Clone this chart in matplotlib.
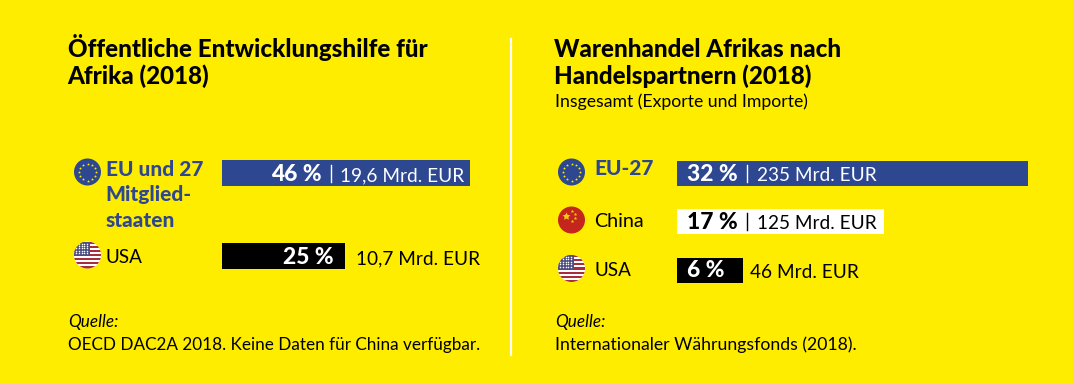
import numpy as np
import matplotlib
matplotlib.use("Agg")
import matplotlib.pyplot as plt
from matplotlib.patches import Circle, Rectangle

W, H = 1073, 384
YELLOW = "#ffed00"
BLUE = "#2e4791"
plt.rcParams["font.family"] = ["Lato", "DejaVu Sans"]

# left panel
left_cats = ["EU und 27\nMitglied-\nstaaten", "USA"]
left_bar_len = [46, 22.8]
left_pct = ["46 %", "25 %"]
left_amount = ["19,6 Mrd. EUR", "10,7 Mrd. EUR"]
left_colors = [BLUE, "black"]

# right panel
right_cats = ["EU-27", "China", "USA"]
right_bar_len = [32, 18.9, 6]
right_pct = ["32 %", "17 %", "6 %"]
right_amount = ["235 Mrd. EUR", "125 Mrd. EUR", "46 Mrd. EUR"]
right_colors = [BLUE, "white", "black"]

fig = plt.figure(figsize=(W / 100, H / 100), dpi=100, facecolor=YELLOW)

# overlay in pixel coordinates, y going down like the picture
bg = fig.add_axes([0, 0, 1, 1])
bg.set_xlim(0, W)
bg.set_ylim(H, 0)
bg.axis("off")
bg.set_zorder(3)

ax_l = fig.add_axes([222 / W, 1 - 298 / H, 248 / W, 167 / H])
ax_l.set_xlim(0, 46)
ax_l.set_ylim(1.5, -0.5)
ax_l.axis("off")
ax_l.barh(range(len(left_cats)), left_bar_len, height=0.31, color=left_colors)

ax_r = fig.add_axes([677 / W, 1 - 294.5 / H, 351 / W, 145.5 / H])
ax_r.set_xlim(0, 32)
ax_r.set_ylim(2.5, -0.5)
ax_r.axis("off")
ax_r.barh(range(len(right_cats)), right_bar_len, height=0.52, color=right_colors)


def star(x, y, size, color=YELLOW):
    bg.scatter([x], [y], s=size, marker=(5, 1, 0), color=color, linewidths=0, zorder=5)


def eu_flag(cx, cy, r=13.5):
    bg.add_patch(Circle((cx, cy), r, color=BLUE, lw=0))
    for a in np.arange(12) * np.pi / 6:
        star(cx + 8.5 * np.cos(a), cy + 8.5 * np.sin(a), 4)


def us_flag(cx, cy, r=13.5):
    clip = Circle((cx, cy), r, transform=bg.transData, fc="white", lw=0)
    bg.add_patch(clip)
    for i in range(7):
        s = bg.add_patch(Rectangle((cx - r, cy - r + i * 2 * r * 2 / 13), 2 * r, 2 * r / 13, color="#a92c3c", lw=0))
        s.set_clip_path(clip)
    c = bg.add_patch(Rectangle((cx - r, cy - r), r * 1.15, r * 1.05, color="#4c4f80", lw=0))
    c.set_clip_path(clip)
    for i in range(5):
        for j in range(5):
            d = bg.scatter([cx - r + 2 + j * 2.8], [cy - r + 2 + i * 2.4], s=1.2, color="white", linewidths=0, zorder=5)
            d.set_clip_path(clip)


def cn_flag(cx, cy, r=13.5):
    bg.add_patch(Circle((cx, cy), r, color="#c4261d", lw=0))
    star(cx - 6, cy - 4, 34, "#f5c518")
    for dx, dy in [(0, -9), (3, -6), (3, -2), (0, 1)]:
        star(cx + dx, cy + dy, 6, "#f5c518")


eu_flag(87.5, 172)
us_flag(87.5, 255)
eu_flag(571.5, 172)
cn_flag(571.5, 220)
us_flag(571.5, 268.5)

# titles
title_kw = dict(fontsize=17.4, fontweight=900, color="black", va="baseline")
bg.text(67.5, 57, "Öffentliche Entwicklungshilfe für", **title_kw)
bg.text(67.5, 84, "Afrika (2018)", **title_kw)
bg.text(554.5, 57, "Warenhandel Afrikas nach", **title_kw)
bg.text(554.5, 84, "Handelspartnern (2018)", **title_kw)
bg.text(555, 107, "Insgesamt (Exporte und Importe)", fontsize=12.7, va="baseline")

# divider
bg.plot([510.5, 510.5], [39, 355], color="white", lw=1.6)

# category labels
cat_kw = dict(fontsize=13.6, va="baseline")
cat_bold = dict(fontsize=15, va="baseline", fontweight=900, color=BLUE)
for line, y in zip(left_cats[0].split("\n"), [176, 201, 227]):
    bg.text(105.5, y, line, **cat_bold)
bg.text(105.5, 263, left_cats[1], **cat_kw)
bg.text(594.5, 175, right_cats[0], **cat_bold)
bg.text(594.5, 227, right_cats[1], fontsize=14.2, va="baseline")
bg.text(594.5, 276, right_cats[2], **cat_kw)

# values on the bars
val_kw = dict(fontsize=13.7, va="baseline", zorder=6)
pct_kw = dict(fontsize=16.4, va="baseline", zorder=6, fontweight=900)
bg.text(322, 181, left_pct[0], ha="right", color="white", **pct_kw)
bg.plot([331, 331], [165, 182], color="white", lw=1)
bg.text(464, 181, left_amount[0], ha="right", color="white", **val_kw)
bg.text(334, 264, left_pct[1], ha="right", color="white", **pct_kw)
bg.text(480, 264, left_amount[1], ha="right", color="black", **val_kw)

for y, pct, amt, tc in [(181, right_pct[0], right_amount[0], "white"),
                        (229, right_pct[1], right_amount[1], "black")]:
    bg.text(687, y, pct, color=tc, **pct_kw)
    bg.plot([747, 747], [y - 16, y + 1], color=tc, lw=1, zorder=6)
    bg.text(757, y, amt, color=tc, **val_kw)
bg.text(687, 277, right_pct[2], color="white", **pct_kw)
bg.text(750, 278, right_amount[2], color="black", **val_kw)

# sources
src_kw = dict(fontsize=12.3, va="baseline")
bg.text(68, 327, "Quelle:", style="italic", **src_kw)
bg.text(68, 350, "OECD DAC2A 2018. Keine Daten für China verfügbar.", **src_kw)
bg.text(555, 327, "Quelle:", style="italic", **src_kw)
bg.text(555, 350, "Internationaler Währungsfonds (2018).", fontsize=12.7, va="baseline")

fig.savefig("out.png", dpi=100, facecolor=YELLOW)
